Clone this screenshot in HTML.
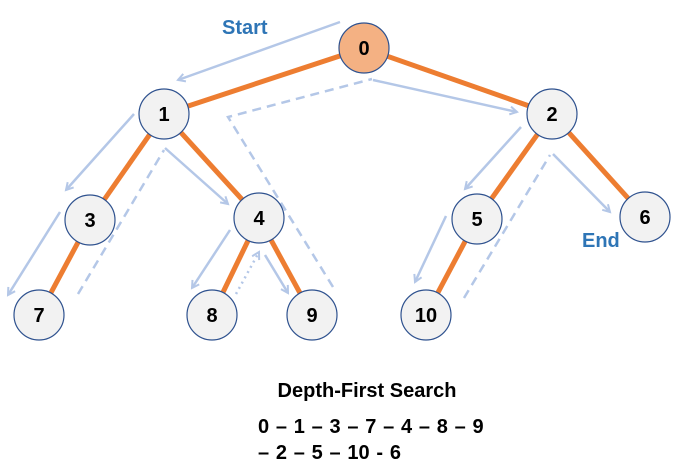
<!DOCTYPE html>
<html><head><meta charset="utf-8"><style>
html,body{margin:0;padding:0;background:#fff;width:677px;height:476px;overflow:hidden}
svg text{font-family:"Liberation Sans",sans-serif;font-weight:bold}
</style></head><body>
<svg width="677" height="476" viewBox="0 0 677 476" xmlns="http://www.w3.org/2000/svg">
<defs>
<marker id="a" markerWidth="10" markerHeight="10" refX="8" refY="5" orient="auto" markerUnits="userSpaceOnUse">
<path d="M1,1 L8,5 L1,9" fill="none" stroke="#b4c7e7" stroke-width="2"/></marker>
</defs>
<g stroke="#ed7d31" stroke-width="5">
<line x1="364" y1="48" x2="164" y2="114"/>
<line x1="364" y1="48" x2="552" y2="114"/>
<line x1="164" y1="114" x2="90" y2="220"/>
<line x1="164" y1="114" x2="259" y2="218"/>
<line x1="90" y1="220" x2="39" y2="315"/>
<line x1="259" y1="218" x2="212" y2="315"/>
<line x1="259" y1="218" x2="312" y2="315"/>
<line x1="552" y1="114" x2="477" y2="219"/>
<line x1="552" y1="114" x2="645" y2="217"/>
<line x1="477" y1="219" x2="426" y2="315"/>
</g>
<g stroke="#b4c7e7" stroke-width="2.5" fill="none" marker-end="url(#a)">
<line x1="340" y1="22" x2="178" y2="80"/>
<line x1="373" y1="80" x2="517" y2="112"/>
<line x1="134" y1="114" x2="66" y2="190"/>
<line x1="60" y1="212" x2="8" y2="295"/>
<line x1="165" y1="148" x2="228" y2="204"/>
<line x1="230" y1="230" x2="192" y2="288"/>
<line x1="236" y1="294" x2="259" y2="252" stroke-dasharray="2 4"/>
<line x1="265" y1="255" x2="288" y2="293"/>
<line x1="521" y1="127" x2="465" y2="189"/>
<line x1="446" y1="216" x2="415" y2="282"/>
<line x1="553" y1="154" x2="610" y2="212"/>
</g>
<g stroke="#b4c7e7" stroke-width="2.5" fill="none" stroke-dasharray="9 6">
<line x1="78" y1="294" x2="164" y2="150"/>
<polyline points="333,287 228,117 372,79"/>
<line x1="464" y1="298" x2="550" y2="155"/>
</g>
<g stroke="#2f528f" stroke-width="1.2" fill="#f2f2f2">
<circle cx="364" cy="48" r="25" fill="#f4b183"/>
<circle cx="164" cy="114" r="25"/>
<circle cx="552" cy="114" r="25"/>
<circle cx="90" cy="220" r="25"/>
<circle cx="259" cy="218" r="25"/>
<circle cx="477" cy="219" r="25"/>
<circle cx="645" cy="217" r="25"/>
<circle cx="39" cy="315" r="25"/>
<circle cx="212" cy="315" r="25"/>
<circle cx="312" cy="315" r="25"/>
<circle cx="426" cy="315" r="25"/>
</g>
<g font-size="20" fill="#000" text-anchor="middle">
<text x="364" y="55">0</text><text x="164" y="121">1</text><text x="552" y="121">2</text>
<text x="90" y="227">3</text><text x="259" y="225">4</text><text x="477" y="226">5</text>
<text x="645" y="224">6</text><text x="39" y="322">7</text><text x="212" y="322">8</text>
<text x="312" y="322">9</text><text x="426" y="322">10</text>
</g>
<text x="222" y="34" font-size="20" fill="#2e75b6">Start</text>
<text x="582" y="247" font-size="20" fill="#2e75b6">End</text>
<text x="367" y="397" font-size="20" text-anchor="middle">Depth-First Search</text>
<text x="258" y="433" font-size="20" word-spacing="1.2">0 – 1 – 3 – 7 – 4 – 8 – 9</text>
<text x="258" y="459" font-size="20" word-spacing="1.2">– 2 – 5 – 10 - 6</text>
</svg>
</body></html>
